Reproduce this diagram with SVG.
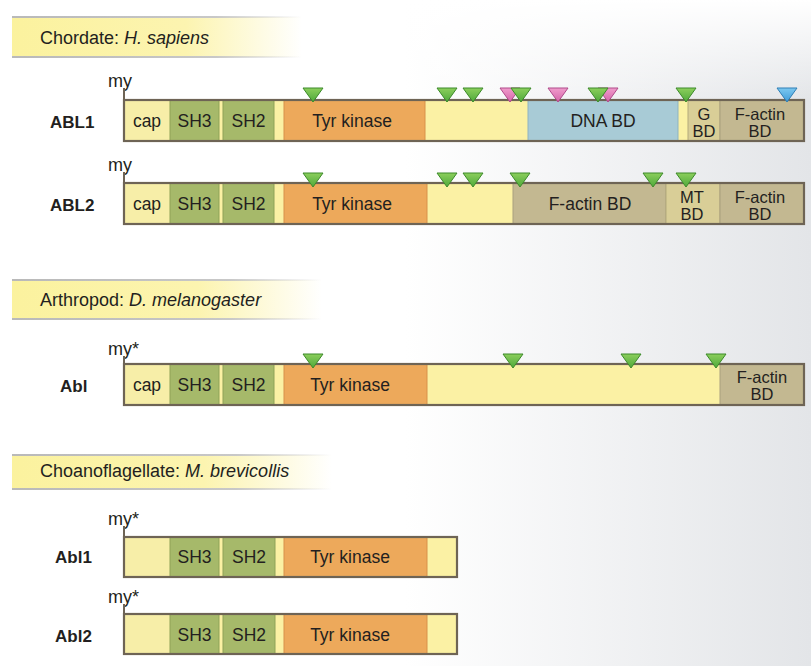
<svg xmlns="http://www.w3.org/2000/svg" xmlns:xlink="http://www.w3.org/1999/xlink" width="811" height="666" viewBox="0 0 811 666">
<defs>
<linearGradient id="bg" x1="0" y1="0" x2="1" y2="0">
<stop offset="0.5" stop-color="#ffffff"/>
<stop offset="1" stop-color="#e3e5e8"/>
</linearGradient>
<linearGradient id="bgTop" x1="0" y1="0" x2="0" y2="1">
<stop offset="0" stop-color="#ffffff" stop-opacity="1"/>
<stop offset="0.15" stop-color="#ffffff" stop-opacity="0"/>
</linearGradient>
<linearGradient id="hdr" x1="0" y1="0" x2="1" y2="0">
<stop offset="0" stop-color="#fbf29e"/>
<stop offset="0.6" stop-color="#fcf4b0"/>
<stop offset="1" stop-color="#fcf4b0" stop-opacity="0"/>
</linearGradient>
<linearGradient id="hdrLine" x1="0" y1="0" x2="1" y2="0">
<stop offset="0" stop-color="#b9b9b9"/>
<stop offset="0.7" stop-color="#c8c8c8"/>
<stop offset="1" stop-color="#c8c8c8" stop-opacity="0"/>
</linearGradient>
<linearGradient id="gtri" x1="0" y1="0" x2="0" y2="1">
<stop offset="0" stop-color="#8ccf5c"/>
<stop offset="1" stop-color="#4ea83a"/>
</linearGradient>
<linearGradient id="ptri" x1="0" y1="0" x2="0" y2="1">
<stop offset="0" stop-color="#f09ccc"/>
<stop offset="1" stop-color="#d564a8"/>
</linearGradient>
<linearGradient id="btri" x1="0" y1="0" x2="0" y2="1">
<stop offset="0" stop-color="#7cc8f0"/>
<stop offset="1" stop-color="#3f9bd8"/>
</linearGradient>
<path id="tri" d="M-10,0 L10,0 L0,14 Z"/>
<style>
text{font-family:"Liberation Sans",Arial,sans-serif;fill:#231f20;}
.hd{font-size:18px;}
.nm{font-size:17px;font-weight:bold;}
.my{font-size:18px;}
.lb{font-size:17.5px;text-anchor:middle;}
.lb2{font-size:16.5px;text-anchor:middle;}
.tick{stroke:#6e6455;stroke-width:2;fill:none;}
.outline{fill:none;stroke:#6e6455;stroke-width:2.2;}
.base{fill:#fbf1a4;}
.cap{fill:#f7eea8;}
.sh{fill:#a6b96a;stroke:#8fa256;stroke-width:1;}
.tk{fill:#eda95b;stroke:#d8914a;stroke-width:1;}
.dna{fill:#a8cbd6;stroke:#8fb3bf;stroke-width:1;}
.fa{fill:#c3b891;stroke:#a9a07e;stroke-width:1;}
.gb{fill:#d9ce97;stroke:#b4a97c;stroke-width:1;}
.g{fill:url(#gtri);stroke:#3c8a2a;stroke-width:1;}
.p{fill:url(#ptri);stroke:#b04a8a;stroke-width:1;}
.b{fill:url(#btri);stroke:#2f7fb6;stroke-width:1;}
</style>
</defs>
<rect x="0" y="0" width="811" height="666" fill="url(#bg)"/>
<rect x="0" y="0" width="811" height="666" fill="url(#bgTop)"/>

<g id="header-chordate">
<rect x="12" y="17" width="290" height="40" fill="url(#hdr)"/>
<rect x="12" y="16" width="290" height="2" fill="url(#hdrLine)"/>
<rect x="12" y="56" width="290" height="2" fill="url(#hdrLine)"/>
<text class="hd" x="40" y="44">Chordate: <tspan font-style="italic">H. sapiens</tspan></text>
</g>

<g id="ABL1">
<text class="nm" x="50" y="128">ABL1</text>
<text class="my" x="108" y="87">my</text>
<path class="tick" d="M124,88 V100"/>
<rect class="base" x="124" y="100" width="680" height="41"/>
<rect class="cap" x="124" y="100" width="46" height="41"/>
<rect class="sh" x="170" y="100" width="49" height="41"/>
<rect class="sh" x="223" y="100" width="51" height="41"/>
<rect class="tk" x="284" y="100" width="141" height="41"/>
<rect class="dna" x="528" y="100" width="150" height="41"/>
<rect class="gb" x="688" y="100" width="32" height="41"/>
<rect class="fa" x="720" y="100" width="84" height="41"/>
<rect class="outline" x="124" y="100" width="680" height="41"/>
<text class="lb" x="147" y="127">cap</text>
<text class="lb" x="194.5" y="127">SH3</text>
<text class="lb" x="248.5" y="127">SH2</text>
<text class="lb" x="352" y="127">Tyr kinase</text>
<text class="lb" x="603" y="127">DNA BD</text>
<text class="lb2" x="704" y="120">G</text>
<text class="lb2" x="704" y="137">BD</text>
<text class="lb2" x="760" y="120">F-actin</text>
<text class="lb2" x="760" y="137">BD</text>
<use href="#tri" x="313" y="88" class="g"/>
<use href="#tri" x="447" y="88" class="g"/>
<use href="#tri" x="473" y="88" class="g"/>
<use href="#tri" x="510" y="88" class="p"/>
<use href="#tri" x="521" y="88" class="g"/>
<use href="#tri" x="558" y="88" class="p"/>
<use href="#tri" x="608" y="88" class="p"/>
<use href="#tri" x="598" y="88" class="g"/>
<use href="#tri" x="686" y="88" class="g"/>
<use href="#tri" x="787" y="88" class="b"/>
</g>

<g id="ABL2">
<text class="nm" x="50" y="211">ABL2</text>
<text class="my" x="108" y="171">my</text>
<path class="tick" d="M124,172 V183"/>
<rect class="base" x="124" y="183" width="680" height="41"/>
<rect class="cap" x="124" y="183" width="46" height="41"/>
<rect class="sh" x="170" y="183" width="49" height="41"/>
<rect class="sh" x="223" y="183" width="51" height="41"/>
<rect class="tk" x="284" y="183" width="143" height="41"/>
<rect class="fa" x="513" y="183" width="153" height="41"/>
<rect class="gb" x="666" y="183" width="54" height="41"/>
<rect class="fa" x="720" y="183" width="84" height="41"/>
<rect class="outline" x="124" y="183" width="680" height="41"/>
<text class="lb" x="147" y="210">cap</text>
<text class="lb" x="194.5" y="210">SH3</text>
<text class="lb" x="248.5" y="210">SH2</text>
<text class="lb" x="352" y="210">Tyr kinase</text>
<text class="lb" x="590" y="210">F-actin BD</text>
<text class="lb2" x="692" y="203">MT</text>
<text class="lb2" x="692" y="220">BD</text>
<text class="lb2" x="760" y="203">F-actin</text>
<text class="lb2" x="760" y="220">BD</text>
<use href="#tri" x="313" y="173" class="g"/>
<use href="#tri" x="447" y="173" class="g"/>
<use href="#tri" x="473" y="173" class="g"/>
<use href="#tri" x="520" y="173" class="g"/>
<use href="#tri" x="653" y="173" class="g"/>
<use href="#tri" x="686" y="173" class="g"/>
</g>

<g id="header-arthropod">
<rect x="12" y="280" width="310" height="39" fill="url(#hdr)"/>
<rect x="12" y="279" width="310" height="2" fill="url(#hdrLine)"/>
<rect x="12" y="318" width="310" height="2" fill="url(#hdrLine)"/>
<text class="hd" x="40" y="306">Arthropod: <tspan font-style="italic">D. melanogaster</tspan></text>
</g>

<g id="Abl">
<text class="nm" x="60" y="392">Abl</text>
<text class="my" x="108" y="355">my*</text>
<path class="tick" d="M124,356 V364"/>
<rect class="base" x="124" y="364" width="680" height="41"/>
<rect class="cap" x="124" y="364" width="46" height="41"/>
<rect class="sh" x="170" y="364" width="49" height="41"/>
<rect class="sh" x="223" y="364" width="51" height="41"/>
<rect class="tk" x="284" y="364" width="143" height="41"/>
<rect class="fa" x="720" y="364" width="84" height="41"/>
<rect class="outline" x="124" y="364" width="680" height="41"/>
<text class="lb" x="147" y="391">cap</text>
<text class="lb" x="194.5" y="391">SH3</text>
<text class="lb" x="248.5" y="391">SH2</text>
<text class="lb" x="350" y="391">Tyr kinase</text>
<text class="lb2" x="762" y="383">F-actin</text>
<text class="lb2" x="762" y="400">BD</text>
<use href="#tri" x="313" y="354" class="g"/>
<use href="#tri" x="513" y="354" class="g"/>
<use href="#tri" x="631" y="354" class="g"/>
<use href="#tri" x="716" y="354" class="g"/>
</g>

<g id="header-choanoflagellate">
<rect x="12" y="455" width="320" height="34" fill="url(#hdr)"/>
<rect x="12" y="454" width="320" height="2" fill="url(#hdrLine)"/>
<rect x="12" y="488" width="320" height="2" fill="url(#hdrLine)"/>
<text class="hd" x="40" y="477">Choanoflagellate: <tspan font-style="italic">M. brevicollis</tspan></text>
</g>

<g id="Abl1">
<text class="nm" x="55" y="563">Abl1</text>
<text class="my" x="108" y="525">my*</text>
<path class="tick" d="M124,526 V537"/>
<rect class="base" x="124" y="537" width="333" height="40"/>
<rect class="cap" x="124" y="537" width="46" height="40"/>
<rect class="sh" x="170" y="537" width="49" height="40"/>
<rect class="sh" x="223" y="537" width="52" height="40"/>
<rect class="tk" x="284" y="537" width="143" height="40"/>
<rect class="outline" x="124" y="537" width="333" height="40"/>
<text class="lb" x="194.5" y="563">SH3</text>
<text class="lb" x="249" y="563">SH2</text>
<text class="lb" x="350" y="563">Tyr kinase</text>
</g>

<g id="Abl2">
<text class="nm" x="55" y="642">Abl2</text>
<text class="my" x="108" y="603">my*</text>
<path class="tick" d="M124,604 V614"/>
<rect class="base" x="124" y="614" width="333" height="40"/>
<rect class="cap" x="124" y="614" width="46" height="40"/>
<rect class="sh" x="170" y="614" width="49" height="40"/>
<rect class="sh" x="223" y="614" width="52" height="40"/>
<rect class="tk" x="284" y="614" width="143" height="40"/>
<rect class="outline" x="124" y="614" width="333" height="40"/>
<text class="lb" x="194.5" y="641">SH3</text>
<text class="lb" x="249" y="641">SH2</text>
<text class="lb" x="350" y="641">Tyr kinase</text>
</g>

<g id="connectors"></g>
</svg>
